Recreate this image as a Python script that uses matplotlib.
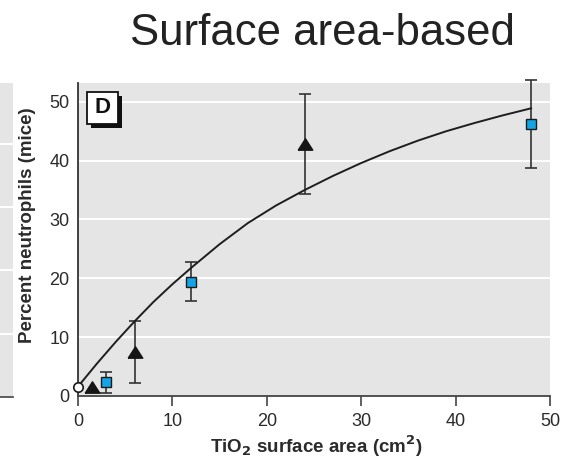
import numpy as np
import matplotlib
matplotlib.use("Agg")
import matplotlib.pyplot as plt
from matplotlib.patches import Rectangle

# ---- data ----
# control (no particles)
ctrl_x = [0.0]
ctrl_y = [1.6]

# fine TiO2 (triangles)
fine_x = [1.5, 6.0, 24.0]
fine_y = [1.5, 7.5, 42.8]
fine_err = [0.0, 5.3, 8.5]

# ultrafine TiO2 (squares)
ultra_x = [3.0, 12.0, 48.0]
ultra_y = [2.3, 19.4, 46.2]
ultra_err = [1.8, 3.3, 7.5]

# fitted dose-response curve
fit_x = [0, 2, 4, 6, 8, 10, 12, 15, 18, 21, 24, 27, 30, 33, 36, 39, 42, 45, 48]
fit_y = [1.6, 5.5, 9.2, 12.7, 16.0, 19.0, 21.8, 25.8, 29.4, 32.4, 35.0,
         37.4, 39.6, 41.6, 43.4, 45.0, 46.4, 47.7, 48.9]

x_ticks = [0, 10, 20, 30, 40, 50]
y_ticks = [0, 10, 20, 30, 40, 50]

BG = "#e5e5e5"
INK = "#2b2b2b"
BLUE = "#12a4e4"
SANS = ["Liberation Sans", "DejaVu Sans"]

W, H = 570, 461
fig = plt.figure(figsize=(W / 100, H / 100), dpi=100)


def px_rect(x0, y0, x1, y1):
    # pixel box (top-left origin) -> figure fraction [l, b, w, h]
    return [x0 / W, 1 - y1 / H, (x1 - x0) / W, (y1 - y0) / H]


# sliver of the neighbouring panel on the left
stub = fig.add_axes(px_rect(0, 83, 13, 397))
stub.set_facecolor(BG)
stub.set_xlim(0, 1)
stub.set_ylim(0, 4.96)
for g in [1, 2, 3, 4]:
    stub.axhline(g, color="white", lw=1.4)
for s in ["top", "right", "left"]:
    stub.spines[s].set_visible(False)
stub.spines["bottom"].set_color("#444444")
stub.spines["bottom"].set_linewidth(1.2)
stub.set_xticks([])
stub.set_yticks([])

# main panel
ax = fig.add_axes(px_rect(78, 83, 550, 396))
ax.set_facecolor(BG)
ax.set_xlim(0, 50)
ax.set_ylim(0, 53.2)
for g in y_ticks[1:]:
    ax.axhline(g, color="white", lw=1.4, zorder=1)

ax.plot(fit_x, fit_y, color="#1e1e1e", lw=1.4, zorder=5, clip_on=False)

fine_x_a, fine_y_a, fine_err_a = map(np.array, (fine_x, fine_y, fine_err))
has_bar = fine_err_a > 0
ax.errorbar(fine_x_a[has_bar], fine_y_a[has_bar], yerr=fine_err_a[has_bar],
            fmt="none", ecolor="#333333", elinewidth=1.2, capsize=4.5,
            capthick=1.2, zorder=3, clip_on=False)
ax.errorbar(ultra_x, ultra_y, yerr=ultra_err, fmt="none", ecolor="#333333",
            elinewidth=1.2, capsize=4.5, capthick=1.2, zorder=3, clip_on=False)

wide_tri = [(-1, -0.78), (1, -0.78), (0, 0.78), (-1, -0.78)]
ax.plot(fine_x, fine_y, linestyle="none", marker=wide_tri, markersize=10.5,
        color="#151515", zorder=4, clip_on=False)
ax.plot(ultra_x, ultra_y, linestyle="none", marker="s", markersize=7.5,
        markerfacecolor=BLUE, markeredgecolor="#1a1a1a", markeredgewidth=1.0,
        zorder=4, clip_on=False)
ax.plot(ctrl_x, ctrl_y, linestyle="none", marker="o", markersize=6.8,
        markerfacecolor="white", markeredgecolor="#1a1a1a",
        markeredgewidth=1.2, zorder=6, clip_on=False)

for s in ["top", "right"]:
    ax.spines[s].set_visible(False)
ax.spines["left"].set_color("#333333")
ax.spines["bottom"].set_color("#444444")
ax.spines["left"].set_linewidth(1.3)
ax.spines["bottom"].set_linewidth(1.3)

ax.set_xticks(x_ticks)
ax.set_yticks(y_ticks)
ax.tick_params(axis="x", length=7, width=1.2, color="#444444", pad=5,
               labelsize=13, labelcolor=INK)
ax.tick_params(axis="y", length=0, pad=6, labelsize=13, labelcolor=INK)
for lab in ax.get_xticklabels() + ax.get_yticklabels():
    lab.set_family(SANS)

ax.set_xlabel(r"TiO$_\mathbf{2}$ surface area (cm$^\mathbf{2}$)",
              family=SANS, fontweight="bold", fontsize=13.5, color=INK)
ax.xaxis.set_label_coords(0.504, -0.182)
ax.xaxis.label.set_va("baseline")
ax.set_ylabel("Percent neutrophils (mice)", family=SANS, fontweight="bold",
              fontsize=13.5, color=INK, rotation_mode="default")
ax.yaxis.label.set_va("center")
ax.yaxis.label.set_ha("center")
ax.yaxis.set_label_coords(-0.106, 0.546)

# panel letter with drop shadow
sx, sy = 4 / 472, 4 / 313
bx, by, bw, bh = 9 / 472, 1 - 41 / 313, 31 / 472, 32 / 313
ax.add_patch(Rectangle((bx + sx, by - sy), bw, bh, transform=ax.transAxes,
                       facecolor="#111111", edgecolor="none", zorder=7,
                       clip_on=False))
ax.add_patch(Rectangle((bx, by), bw, bh, transform=ax.transAxes,
                       facecolor="white", edgecolor="#111111", lw=1.3,
                       zorder=8, clip_on=False))
ax.text(bx + bw / 2, by + bh / 2, "D", transform=ax.transAxes, ha="center",
        va="center", family=SANS, fontweight="bold", fontsize=16,
        color="#111111", zorder=9)

fig.text(322 / W, 1 - 45 / H, "Surface area-based", ha="center",
         va="baseline", family=SANS, fontsize=31.5, color="#222222")

fig.savefig("out.png", dpi=100)
